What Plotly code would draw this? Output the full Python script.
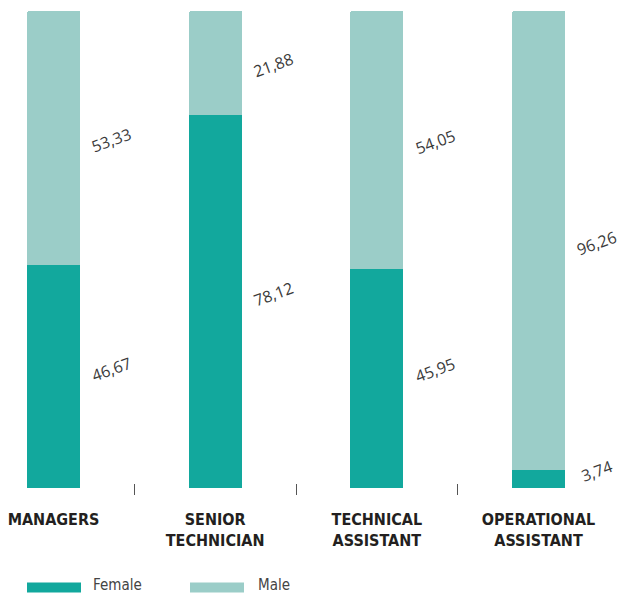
import plotly.graph_objects as go

categories = ["MANAGERS", "SENIOR<br>TECHNICIAN", "TECHNICAL<br>ASSISTANT", "OPERATIONAL<br>ASSISTANT"]
female = [46.67, 78.12, 45.95, 3.74]
male = [53.33, 21.88, 54.05, 96.26]
series_names = ["Female", "Male"]
colors = ["#12A89D", "#9BCDC8"]

xpos = list(range(len(categories)))
boundaries = [i + 0.5 for i in xpos[:-1]]

W, H = 625, 593
plot_top, plot_bottom = 11, 488
plot_h = plot_bottom - plot_top
pitch = 161.67
r0 = -53.5 / pitch
r1 = r0 + W / pitch

COND = "DejaVu Sans Condensed, Liberation Sans Narrow, Arial Narrow, sans-serif"

fig = go.Figure()
for name, vals, col in zip(series_names, [female, male], colors):
    fig.add_trace(go.Bar(x=xpos, y=vals, name=name, marker_color=col,
                         marker_line_width=0, width=53 / pitch, showlegend=False,
                         hoverinfo="skip"))
# helper trace for boundary tick axis
fig.add_trace(go.Scatter(x=[None], y=[None], xaxis="x2", showlegend=False, hoverinfo="skip"))

# data labels
for i in xpos:
    fig.add_annotation(x=i + 0.36, y=female[i] / 2, text=f"{female[i]:.2f}".replace(".", ","),
                       textangle=-20, showarrow=False, yshift=8,
                       font=dict(family="Open Sans", size=16, color="#3a3a3a"))
    fig.add_annotation(x=i + 0.36, y=female[i] + male[i] / 2, text=f"{male[i]:.2f}".replace(".", ","),
                       textangle=-20, showarrow=False, yshift=-2,
                       font=dict(family="Open Sans", size=16, color="#3a3a3a"))

# custom legend
leg_y = (plot_bottom - 587.5) / plot_h
txt_y = (plot_bottom - 584.5) / plot_h
sw_h = 8 / plot_h
for k, (name, col) in enumerate(zip(series_names, colors)):
    x0 = (28 + 163 * k) / W
    x1 = (80 + 163 * k) / W
    fig.add_shape(type="rect", xref="paper", yref="paper", x0=x0, x1=x1,
                  y0=leg_y - sw_h / 2, y1=leg_y + sw_h / 2,
                  fillcolor=col, line=dict(color=col, width=2))
    fig.add_annotation(xref="paper", yref="paper", x=(91 + 165 * k) / W, y=txt_y,
                       xanchor="left", yanchor="middle", text=name, showarrow=False,
                       font=dict(family=COND, size=15, color="#444"))

fig.update_layout(
    width=W, height=H, barmode="stack", bargap=0,
    barcornerradius=2,
    margin=dict(l=0, r=0, t=plot_top, b=H - plot_bottom),
    paper_bgcolor="white", plot_bgcolor="white",
    xaxis=dict(range=[r0, r1], tickvals=xpos, ticktext=[f"<b>{c}</b>" for c in categories],
               ticks="", showline=False, showgrid=False, zeroline=False,
               tickfont=dict(family=COND, size=16, color="#231F20"),
               ticklabelstandoff=20),
    xaxis2=dict(range=[r0, r1], overlaying="x", anchor="free", position=5 / plot_h,
                tickvals=boundaries, ticks="outside", ticklen=11, tickwidth=1,
                tickcolor="#555", showticklabels=False, showline=False,
                showgrid=False, zeroline=False),
    yaxis=dict(range=[0, 100], visible=False, showgrid=False, zeroline=False),
)

fig.write_html("out.html")
